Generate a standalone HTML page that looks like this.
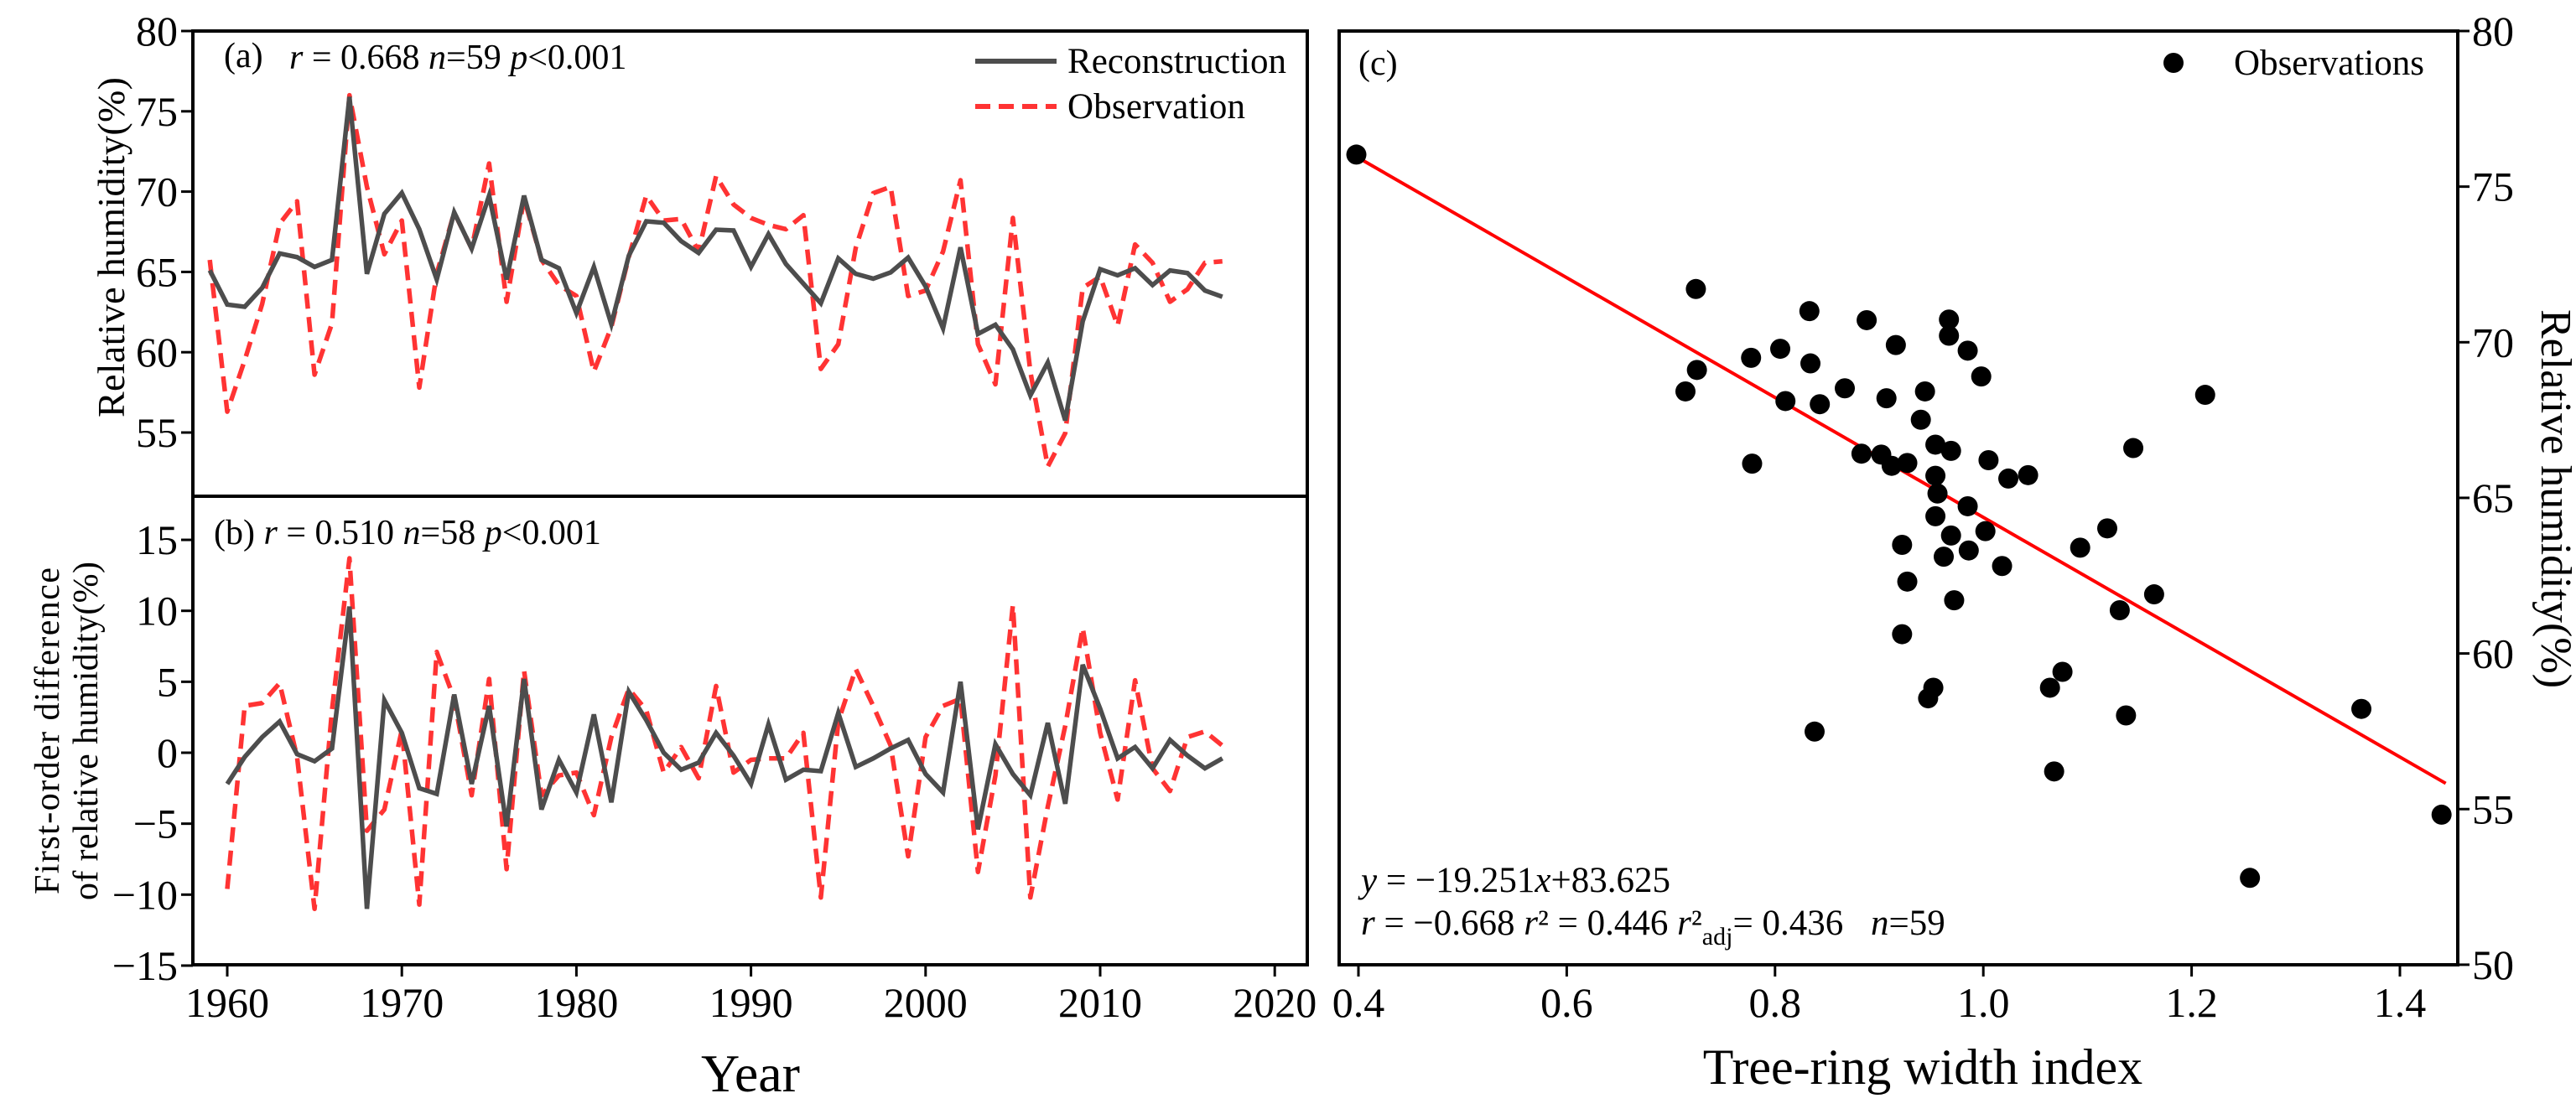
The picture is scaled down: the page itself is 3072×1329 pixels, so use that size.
<!DOCTYPE html>
<html><head><meta charset="utf-8">
<style>
html,body{margin:0;padding:0;background:#fff;}
svg{display:block;font-family:"Liberation Serif","DejaVu Serif","Times New Roman",serif;}
svg text{font-family:"Liberation Serif","DejaVu Serif","Times New Roman",serif;fill:#000;}
</style></head>
<body>
<svg id="chart" width="3072" height="1329" viewBox="0 0 3072 1329" xmlns="http://www.w3.org/2000/svg" font-family="Liberation Serif, DejaVu Serif, serif">
  <rect x="0" y="0" width="3072" height="1329" fill="#fff"/>
  <g id="gA"></g>
  <g id="gB"></g>
  <g id="gC"></g>

  <text x="267" y="80" font-size="42">(a)</text>
  <text x="345" y="82" font-size="42"><tspan font-style="italic">r</tspan> = 0.668 <tspan font-style="italic">n</tspan>=59 <tspan font-style="italic">p</tspan>&lt;0.001</text>
  <line x1="1163" y1="73" x2="1260" y2="73" stroke="#4d4d4d" stroke-width="6"/>
  <text x="1273" y="87" font-size="43" textLength="261">Reconstruction</text>
  <line x1="1163" y1="127" x2="1260" y2="127" stroke="#ff3333" stroke-width="6" stroke-dasharray="18,10"/>
  <text x="1273" y="141" font-size="43" textLength="212">Observation</text>
  <text transform="translate(148,295) rotate(-90)" text-anchor="middle" font-size="46" textLength="406">Relative humidity(%)</text>

  <text x="255" y="649" font-size="42">(b) <tspan font-style="italic">r</tspan> = 0.510 <tspan font-style="italic">n</tspan>=58 <tspan font-style="italic">p</tspan>&lt;0.001</text>
  <text transform="translate(70,872) rotate(-90)" text-anchor="middle" font-size="42" textLength="390">First-order difference</text>
  <text transform="translate(116,872) rotate(-90)" text-anchor="middle" font-size="42" textLength="404">of relative humidity(%)</text>
  <text x="895" y="1302" text-anchor="middle" font-size="64">Year</text>

  <text x="1620" y="89" font-size="42">(c)</text>
  <circle cx="2592" cy="75" r="12" fill="#000"/>
  <text x="2664" y="89" font-size="43" textLength="227">Observations</text>
  <text x="1623" y="1064" font-size="43"><tspan font-style="italic">y</tspan> = −19.251<tspan font-style="italic">x</tspan>+83.625</text>
  <text x="1623" y="1115" font-size="43"><tspan font-style="italic">r</tspan> = −0.668 <tspan font-style="italic">r</tspan>² = 0.446 <tspan font-style="italic">r</tspan>²<tspan font-size="30" dy="12">adj</tspan><tspan dy="-12">= 0.436 </tspan><tspan dx="22" font-style="italic">n</tspan>=59</text>
  <text transform="translate(3031,595) rotate(90)" text-anchor="middle" font-size="52">Relative humidity(%)</text>
  <text x="2293" y="1293" text-anchor="middle" font-size="60">Tree-ring width index</text>
</svg>
<script>
const years = [1959,1960,1961,1962,1963,1964,1965,1966,1967,1968,1969,1970,1971,1972,1973,1974,1975,1976,1977,1978,1979,1980,1981,1982,1983,1984,1985,1986,1987,1988,1989,1990,1991,1992,1993,1994,1995,1996,1997,1998,1999,2000,2001,2002,2003,2004,2005,2006,2007,2008,2009,2010,2011,2012,2013,2014,2015,2016,2017];
const reconstruction = [65.1,62.97,62.83,64.01,66.15,65.92,65.31,65.75,75.9,64.88,68.62,69.92,67.66,64.53,68.71,66.45,69.75,64.53,69.75,65.75,65.23,62.44,65.31,61.75,66.01,68.15,68.06,66.92,66.18,67.63,67.58,65.31,67.35,65.49,64.27,63.05,65.84,64.88,64.58,64.97,65.89,64.10,61.49,66.53,61.14,61.71,60.18,57.31,59.36,55.75,61.92,65.17,64.79,65.23,64.18,65.09,64.93,63.84,63.45];
const observation = [65.75,56.3,59.5,63.0,68.0,69.4,58.6,61.8,76.0,70.3,66.1,68.2,57.8,64.9,68.7,66.45,71.75,63.14,69.58,65.75,64.18,63.5,58.79,61.57,65.92,69.75,68.2,68.3,66.27,70.97,69.2,68.36,67.93,67.66,68.53,58.96,60.5,66.5,69.9,70.3,63.5,63.84,66.27,70.71,60.5,58.0,68.36,58.79,52.88,54.96,64.01,64.71,61.66,66.71,65.57,63.14,63.92,65.57,65.66];
const diffYears = [1960,1961,1962,1963,1964,1965,1966,1967,1968,1969,1970,1971,1972,1973,1974,1975,1976,1977,1978,1979,1980,1981,1982,1983,1984,1985,1986,1987,1988,1989,1990,1991,1992,1993,1994,1995,1996,1997,1998,1999,2000,2001,2002,2003,2004,2005,2006,2007,2008,2009,2010,2011,2012,2013,2014,2015,2016,2017];
const reconDiff = [-2.2,-0.3,1.1,2.2,-0.1,-0.6,0.3,10.3,-11.0,3.7,1.4,-2.5,-2.9,4.1,-2.2,3.3,-5.2,5.2,-4.0,-0.5,-2.8,2.7,-3.5,4.3,2.3,0.0,-1.2,-0.7,1.4,-0.2,-2.2,2.0,-1.9,-1.2,-1.3,2.8,-1.0,-0.4,0.3,0.9,-1.5,-2.8,5.0,-5.4,0.6,-1.5,-3.0,2.1,-3.6,6.2,3.1,-0.4,0.4,-1.1,0.9,-0.2,-1.1,-0.4];
const obsDiff = [-9.6,3.3,3.5,4.9,-0.3,-11.0,3.0,13.7,-5.5,-4.0,1.6,-10.7,7.1,3.8,-3.0,5.2,-8.2,5.8,-3.0,-1.6,-1.4,-4.4,1.1,4.5,3.0,-1.4,0.4,-1.8,4.7,-1.4,-0.5,-0.4,-0.4,1.4,-10.2,2.2,5.9,3.3,0.5,-7.3,1.1,3.3,3.8,-8.4,-1.6,10.4,-10.2,-3.8,1.9,8.8,1.4,-3.3,5.1,-1.1,-2.7,1.1,1.5,0.5];
const treeRing = [0.398,0.724,0.833,0.888,0.967,0.967,0.805,0.777,0.916,0.985,0.725,0.834,0.998,0.714,0.867,0.944,1.213,0.810,0.907,0.843,0.940,0.954,0.969,1.144,0.778,0.883,0.902,0.912,0.927,1.005,0.954,1.024,1.043,0.956,0.985,0.954,1.002,1.119,0.969,0.922,1.093,0.962,0.986,1.018,0.927,1.164,0.972,1.131,0.922,1.076,1.064,0.952,0.947,1.363,1.137,0.838,1.068,1.440,1.256];
const scatterRH = [76.03,71.71,71.0,70.71,70.73,70.21,69.79,69.50,69.91,69.73,69.11,69.32,68.90,68.42,68.52,68.42,68.31,68.11,68.20,68.01,67.51,66.71,66.51,66.60,66.10,66.42,66.39,66.03,66.12,66.21,65.71,65.62,65.73,65.14,64.73,64.41,63.93,64.02,63.79,63.49,63.40,63.11,63.31,62.81,62.31,61.90,61.71,61.39,60.62,59.41,58.90,58.90,58.56,58.22,58.01,57.49,56.21,54.82,52.79];
const fitSlope = -19.251, fitIntercept = 83.625, fitRange = [0.398, 1.444];
const yearTicks = [1960,1970,1980,1990,2000,2010,2020];
const aTicks = [55,60,65,70,75,80];
const bTicks = [-15,-10,-5,0,5,10,15];
const cXTicks = [0.4,0.6,0.8,1.0,1.2,1.4];
const cYTicks = [50,55,60,65,70,75,80];

const NS = "http://www.w3.org/2000/svg";
const xYear = y => 271 + (y - 1960) * 20.82;
const yA = v => 37 + (80 - v) * 19.16;
const yB = v => 898 - v * 16.93;
const xC = v => 1620 + (v - 0.4) * 1242;
const yC = v => 37 + (80 - v) * 37.13;
function el(tag, attrs, parent){ const e=document.createElementNS(NS,tag); for(const k in attrs) e.setAttribute(k,attrs[k]); parent.appendChild(e); return e; }
const fmtNeg = v => (v<0 ? "\u2212"+Math.abs(v) : String(v));
const gA=document.getElementById('gA'), gB=document.getElementById('gB'), gC=document.getElementById('gC');

let p = el('polyline',{points:years.map((y,i)=>xYear(y)+','+yA(observation[i])).join(' '),fill:'none',stroke:'#ff3333','stroke-width':5.5,'stroke-dasharray':'18,10','stroke-linejoin':'round'},gA);


p = el('polyline',{points:years.map((y,i)=>xYear(y)+','+yA(reconstruction[i])).join(' '),fill:'none',stroke:'#4d4d4d','stroke-width':5.5,'stroke-linejoin':'miter'},gA);


aTicks.forEach(t=>{
  const tk=el('line',{x1:216,x2:230,y1:yA(t),y2:yA(t),stroke:'#000','stroke-width':3},gA);
  
  
  const tl=el('text',{x:212,y:yA(t)+17,'text-anchor':'end','font-size':50},gA); tl.textContent=t;
  
  
});
let fr = el('rect',{x:230,y:37,width:1329,height:555,fill:'none',stroke:'#000','stroke-width':4},gA);



p = el('polyline',{points:diffYears.map((y,i)=>xYear(y)+','+yB(obsDiff[i])).join(' '),fill:'none',stroke:'#ff3333','stroke-width':5.5,'stroke-dasharray':'18,10','stroke-linejoin':'round'},gB);


p = el('polyline',{points:diffYears.map((y,i)=>xYear(y)+','+yB(reconDiff[i])).join(' '),fill:'none',stroke:'#4d4d4d','stroke-width':5.5},gB);


bTicks.forEach(t=>{
  const tk=el('line',{x1:216,x2:230,y1:yB(t),y2:yB(t),stroke:'#000','stroke-width':3},gB);
  
  
  const tl=el('text',{x:212,y:yB(t)+17,'text-anchor':'end','font-size':50},gB); tl.textContent=fmtNeg(t);
  
  
});
yearTicks.forEach(t=>{
  const tk=el('line',{x1:xYear(t),x2:xYear(t),y1:1151,y2:1165,stroke:'#000','stroke-width':3},gB);
  
  
  const tl=el('text',{x:xYear(t),y:1213,'text-anchor':'middle','font-size':50},gB); tl.textContent=t;
  
  
});
fr = el('rect',{x:230,y:592,width:1329,height:559,fill:'none',stroke:'#000','stroke-width':4},gB);



let fl = el('line',{x1:xC(fitRange[0]),y1:yC(fitSlope*fitRange[0]+fitIntercept),x2:xC(fitRange[1]),y2:yC(fitSlope*fitRange[1]+fitIntercept),stroke:'#ff0000','stroke-width':4},gC);


treeRing.forEach((x,i)=>{
  const c=el('circle',{cx:xC(x),cy:yC(scatterRH[i]),r:12,fill:'#000'},gC);
  
  
});
cXTicks.forEach(t=>{
  const tk=el('line',{x1:xC(t),x2:xC(t),y1:1151,y2:1165,stroke:'#000','stroke-width':3},gC);
  
  
  const tl=el('text',{x:xC(t),y:1213,'text-anchor':'middle','font-size':50},gC); tl.textContent=t.toFixed(1);
  
  
});
cYTicks.forEach(t=>{
  const tk=el('line',{x1:2931,x2:2945,y1:yC(t),y2:yC(t),stroke:'#000','stroke-width':3},gC);
  
  
  const tl=el('text',{x:2948,y:yC(t)+17,'font-size':50},gC); tl.textContent=t;
  
  
});
fr = el('rect',{x:1597,y:37,width:1334,height:1114,fill:'none',stroke:'#000','stroke-width':4},gC);


</script>
</body></html>
